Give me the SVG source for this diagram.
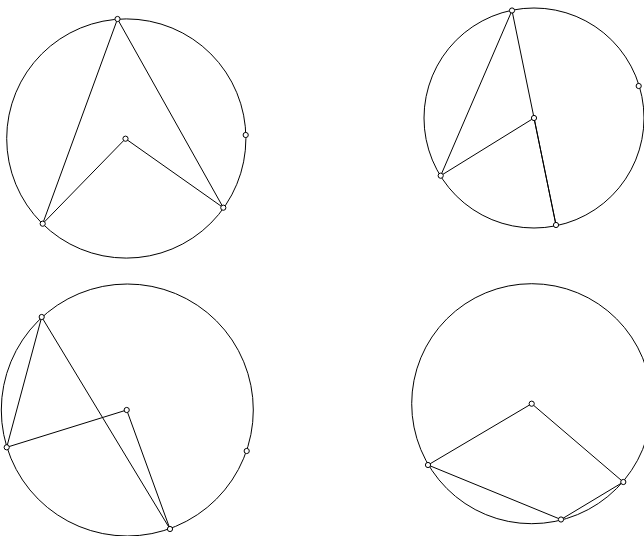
<svg xmlns="http://www.w3.org/2000/svg" width="644" height="536" viewBox="0 0 644 536">
<style>
.c{fill:none;stroke:#000;stroke-width:1}
.l{stroke:#000;stroke-width:1;fill:none}
.p{fill:#fff;stroke:#000;stroke-width:1}
</style>
<rect width="644" height="536" fill="#fff"/>
<g id="fig1">
<circle class="c" cx="126.3" cy="138.5" r="119.6"/>
<g id="fig1-connectors">
<line class="l" x1="117.5" y1="19" x2="42.7" y2="223.7"/>
<line class="l" x1="117.5" y1="19" x2="223.3" y2="207.7"/>
<line class="l" x1="125.5" y1="138.7" x2="42.7" y2="223.7"/>
<line class="l" x1="125.5" y1="138.7" x2="223.3" y2="207.7"/>
</g>
<circle id="fig1-A" class="p" cx="117.5" cy="19" r="2.6"/>
<circle id="fig1-O" class="p" cx="125.5" cy="138.7" r="2.6"/>
<circle id="fig1-B" class="p" cx="42.7" cy="223.7" r="2.6"/>
<circle id="fig1-C" class="p" cx="223.3" cy="207.7" r="2.6"/>
<circle id="fig1-D" class="p" cx="245.7" cy="135" r="2.6"/>
</g>
<g id="fig2">
<circle class="c" cx="534" cy="118" r="110"/>
<g id="fig2-connectors">
<line class="l" x1="512" y1="10.5" x2="440.7" y2="175.7"/>
<line class="l" x1="512" y1="10.5" x2="556" y2="225"/>
<line class="l" x1="534" y1="118" x2="556" y2="225"/>
<line class="l" x1="534" y1="118" x2="440.7" y2="175.7"/>
</g>
<circle id="fig2-A" class="p" cx="512" cy="10.5" r="2.6"/>
<circle id="fig2-O" class="p" cx="534" cy="118" r="2.6"/>
<circle id="fig2-B" class="p" cx="440.7" cy="175.7" r="2.6"/>
<circle id="fig2-C" class="p" cx="556" cy="225" r="2.6"/>
<circle id="fig2-D" class="p" cx="638.7" cy="86" r="2.6"/>
</g>
<g id="fig3">
<circle class="c" cx="127.3" cy="410" r="126"/>
<g id="fig3-connectors">
<line class="l" x1="41.7" y1="317" x2="6.7" y2="447.3"/>
<line class="l" x1="41.7" y1="317" x2="170" y2="529"/>
<line class="l" x1="126.7" y1="410" x2="6.7" y2="447.3"/>
<line class="l" x1="126.7" y1="410" x2="170" y2="529"/>
</g>
<circle id="fig3-A" class="p" cx="41.7" cy="317" r="2.6"/>
<circle id="fig3-O" class="p" cx="126.7" cy="410" r="2.6"/>
<circle id="fig3-B" class="p" cx="6.7" cy="447.3" r="2.6"/>
<circle id="fig3-C" class="p" cx="170" cy="529" r="2.6"/>
<circle id="fig3-D" class="p" cx="246.7" cy="451" r="2.6"/>
</g>
<g id="fig4">
<circle class="c" cx="531.7" cy="403.7" r="120"/>
<g id="fig4-connectors">
<line class="l" x1="531.7" y1="403.7" x2="428" y2="465"/>
<line class="l" x1="531.7" y1="403.7" x2="623.3" y2="482"/>
<line class="l" x1="428" y1="465" x2="561" y2="519.5"/>
<line class="l" x1="561" y1="519.5" x2="623.3" y2="482"/>
</g>
<circle id="fig4-O" class="p" cx="531.7" cy="403.7" r="2.6"/>
<circle id="fig4-B" class="p" cx="428" cy="465" r="2.6"/>
<circle id="fig4-C" class="p" cx="623.3" cy="482" r="2.6"/>
<circle id="fig4-D" class="p" cx="561" cy="519.5" r="2.6"/>
</g>
</svg>
